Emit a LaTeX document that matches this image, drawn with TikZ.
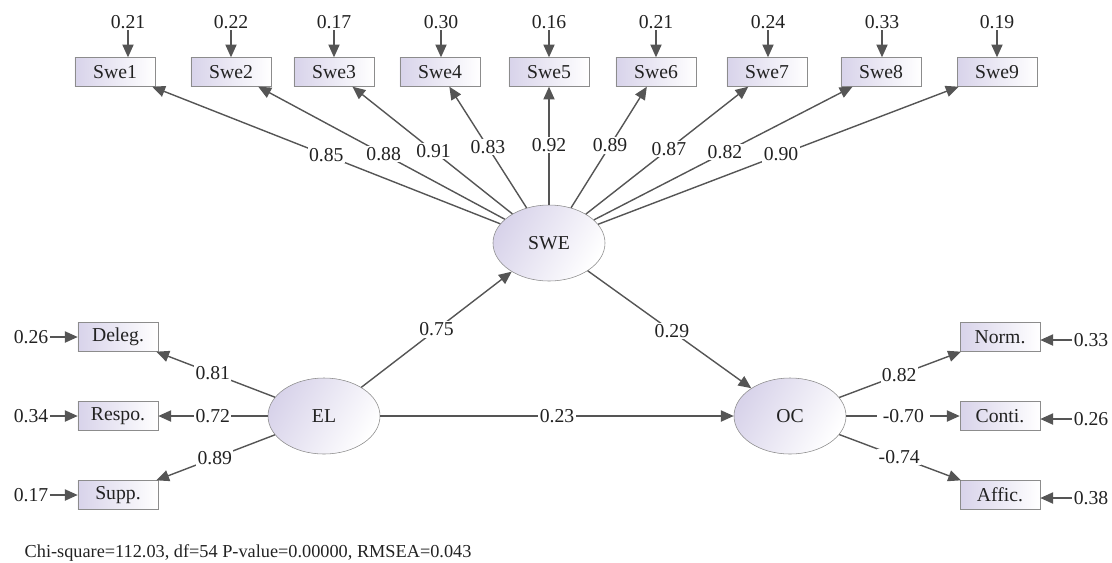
\documentclass[tikz,border=0pt]{standalone}
\usepackage{fontspec}
\setmainfont{Liberation Serif}
\usetikzlibrary{shapes.geometric,arrows.meta,positioning,calc}
\definecolor{semlav}{HTML}{D8D3EA}
\definecolor{semline}{HTML}{555555}
\definecolor{semedge}{HTML}{8C8C8C}
\definecolor{semtext}{HTML}{222222}
\tikzset{
  indicator/.style={rectangle, draw=semedge, left color=semlav, right color=white, minimum width=2cm, minimum height=0.72cm, inner sep=1pt, align=center, font=\fontsize{14}{16}\selectfont, text=semtext},
  latent/.style={ellipse, draw=semedge, left color=semlav, right color=white, shading angle=60, minimum width=2.8cm, minimum height=1.9cm, inner sep=0pt, font=\fontsize{14}{16}\selectfont, text=semtext},
  errlabel/.style={inner sep=1pt, font=\fontsize{14}{16}\selectfont, text=semtext},
  coef/.style={fill=white, inner sep=1pt, font=\fontsize{14}{16}\selectfont, text=semtext},
  effect/.style={draw=semline, line width=1pt, -{Triangle[length=3.2mm, width=2.8mm]}},
}
\begin{document}
\begin{tikzpicture}[x=0.025cm, y=-0.025cm]
  \useasboundingbox (0,0) rectangle (1112,562);
  % latent variables
  \node[latent] (swe) at (549,243) {SWE};
  \node[latent] (el) at (324,416) {EL};
  \node[latent] (oc) at (790,416) {OC};
  % indicators of SWE
  \node[indicator] (s1) at (115,72) {Swe1};
  \node[indicator] (s2) at (231,72) {Swe2};
  \node[indicator] (s3) at (334,72) {Swe3};
  \node[indicator] (s4) at (440,72) {Swe4};
  \node[indicator] (s5) at (549,72) {Swe5};
  \node[indicator] (s6) at (656,72) {Swe6};
  \node[indicator] (s7) at (767,72) {Swe7};
  \node[indicator] (s8) at (881,72) {Swe8};
  \node[indicator] (s9) at (997,72) {Swe9};
  % indicators of EL and OC
  \node[indicator] (deleg) at (118,337) {Deleg.};
  \node[indicator] (respo) at (118,416) {Respo.};
  \node[indicator] (supp) at (118,495) {Supp.};
  \node[indicator] (norm) at (1000,337) {Norm.};
  \node[indicator] (conti) at (1000,416) {Conti.};
  \node[indicator] (affic) at (1000,495) {Affic.};
  % error variances
  \node[errlabel] (e1) at (128,22) {0.21};
  \node[errlabel] (e2) at (231,22) {0.22};
  \node[errlabel] (e3) at (334,22) {0.17};
  \node[errlabel] (e4) at (441,22) {0.30};
  \node[errlabel] (e5) at (549,22) {0.16};
  \node[errlabel] (e6) at (656,22) {0.21};
  \node[errlabel] (e7) at (768,22) {0.24};
  \node[errlabel] (e8) at (882,22) {0.33};
  \node[errlabel] (e9) at (997,22) {0.19};
  \node[errlabel] (ed) at (31,337) {0.26};
  \node[errlabel] (er) at (31,416) {0.34};
  \node[errlabel] (es) at (31,495) {0.17};
  \node[errlabel] (en) at (1091,340) {0.33};
  \node[errlabel] (ec) at (1091,419) {0.26};
  \node[errlabel] (ea) at (1091,498) {0.38};
  \foreach \i in {1,...,9}
    \draw[effect] (e\i) -- (e\i |- s\i.north);
  \draw[effect] (ed) -- (deleg);
  \draw[effect] (er) -- (respo);
  \draw[effect] (es) -- (supp);
  \draw[effect] (en) -- (en -| norm.east);
  \draw[effect] (ec) -- (ec -| conti.east);
  \draw[effect] (ea) -- (ea -| affic.east);
  % loadings
  \foreach \i in {1,...,9}
    \draw[effect] (swe) -- (s\i);
  \draw[effect] (el) -- (deleg);
  \draw[effect] (el) -- (respo);
  \draw[effect] (el) -- (supp);
  \draw[effect] (oc) -- (norm);
  \draw[effect] (oc) -- (conti);
  \draw[effect] (oc) -- (affic);
  % structural paths
  \draw[effect] (el) -- (swe);
  \draw[effect] (swe) -- (oc);
  \draw[effect] (el) -- (oc);
  % coefficients
  \node[coef] (c1) at ($(swe)!0.513!(s1)$) {0.85};
  \node[coef] (c2) at ($(swe)!0.52!(s2)$) {0.88};
  \node[coef] (c3) at ($(swe)!0.537!(s3)$) {0.91};
  \node[coef] (c4) at ($(swe)!0.56!(s4)$) {0.83};
  \node[coef] (c5) at ($(swe)!0.575!(s5)$) {0.92};
  \node[coef] (c6) at ($(swe)!0.57!(s6)$) {0.89};
  \node[coef] (c7) at ($(swe)!0.55!(s7)$) {0.87};
  \node[coef] (c8) at ($(swe)!0.53!(s8)$) {0.82};
  \node[coef] (c9) at ($(swe)!0.518!(s9)$) {0.90};
  \node[coef] (cd) at ($(el)!0.54!(deleg)$) {0.81};
  \node[coef] (cr) at ($(el)!0.54!(respo)$) {0.72};
  \node[coef] (cs) at ($(el)!0.53!(supp)$) {0.89};
  \node[coef] (cn) at ($(oc)!0.52!(norm)$) {0.82};
  \node[coef, inner xsep=4pt] (cc) at ($(oc)!0.54!(conti)$) {-0.70};
  \node[coef] (ca) at ($(oc)!0.52!(affic)$) {-0.74};
  \node[coef] (cel) at ($(el)!0.5!(swe)$) {0.75};
  \node[coef] (cso) at ($(swe)!0.51!(oc)$) {0.29};
  \node[coef] (ceo) at ($(el)!0.5!(oc)$) {0.23};
  % fit statistics
  \node[errlabel, anchor=west, font=\fontsize{13}{15}\selectfont] (fitstat) at (23,553) {Chi-square=112.03, df=54 P-value=0.00000, RMSEA=0.043};
\end{tikzpicture}
\end{document}
